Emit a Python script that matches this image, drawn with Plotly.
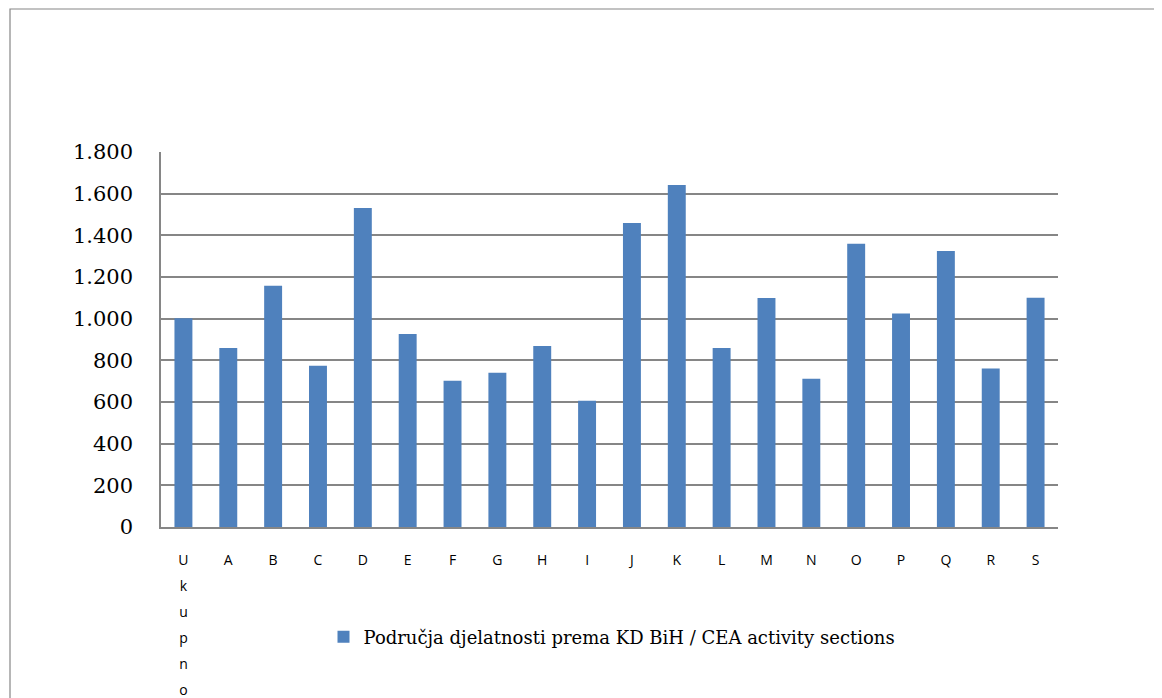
import plotly.graph_objects as go

categories = ["Ukupno", "A", "B", "C", "D", "E", "F", "G", "H", "I", "J",
              "K", "L", "M", "N", "O", "P", "Q", "R", "S"]
tick_labels = ["U<br>k<br>u<br>p<br>n<br>o", "A", "B", "C", "D", "E", "F", "G", "H", "I", "J",
               "K", "L", "M", "N", "O", "P", "Q", "R", "S"]
values = [1002, 859, 1158, 774, 1531, 926, 702, 741, 869, 606, 1459,
          1642, 859, 1099, 712, 1360, 1025, 1325, 761, 1101]
series_name = "Područja djelatnosti prema KD BiH / CEA activity sections"
y_ticks = [0, 200, 400, 600, 800, 1000, 1200, 1400, 1600, 1800]

OFF = 8  # browser default body margin
W, H = 1162 - OFF, 698 - OFF
L, R, T, B = 161 - OFF, 104, 152 - OFF, 171
pw, ph = W - L - R, H - T - B

def px_x(x):
    return (x - OFF - L) / pw

def px_y(y):
    return (H - B - (y - OFF)) / ph

# small glyphs with wider line spacing (line spacing follows the larger tick font)
styled_ticks = ["<br>".join('<span style="font-size:14px">%s</span>' % part for part in t.split("<br>"))
                for t in tick_labels]

fig = go.Figure()
fig.add_trace(go.Bar(
    x=categories, y=values, name=series_name,
    marker=dict(color="#4F81BD", line=dict(width=0)),
    showlegend=True,
))

fig.update_layout(
    width=W, height=H,
    margin=dict(l=L, r=R, t=T, b=B, autoexpand=False),
    paper_bgcolor="white", plot_bgcolor="white",
    bargap=0.6,
    separators=",.",
    showlegend=True,
    legend=dict(orientation="h", x=px_x(612), xanchor="center", y=px_y(637), yanchor="middle",
                font=dict(family="DejaVu Serif", size=18, color="#000000"),
                itemwidth=30, bgcolor="rgba(0,0,0,0)"),
    xaxis=dict(
        type="category", tickmode="array", tickvals=categories, ticktext=styled_ticks,
        tickangle=0, showgrid=False, showline=True, linecolor="#868686", linewidth=1.5,
        ticks="", ticklabelstandoff=12,
        tickfont=dict(family="Open Sans", size=20, color="#000000"),
    ),
    yaxis=dict(
        range=[0, 1800], tickmode="array", tickvals=y_ticks, separatethousands=True,
        tickformat=",d",
        showgrid=True, gridcolor="#868686", gridwidth=1.5,
        showline=True, linecolor="#868686", linewidth=1.5,
        ticks="", zeroline=False, ticklabelstandoff=22,
        tickfont=dict(family="DejaVu Serif", size=21, color="#000000"),
    ),
    shapes=[dict(type="rect", xref="paper", yref="paper",
                 x0=px_x(10), x1=px_x(1160), y0=px_y(708), y1=px_y(9),
                 line=dict(color="#868686", width=1.2), fillcolor="rgba(0,0,0,0)", layer="below")],
)

fig.write_html("out.html")
